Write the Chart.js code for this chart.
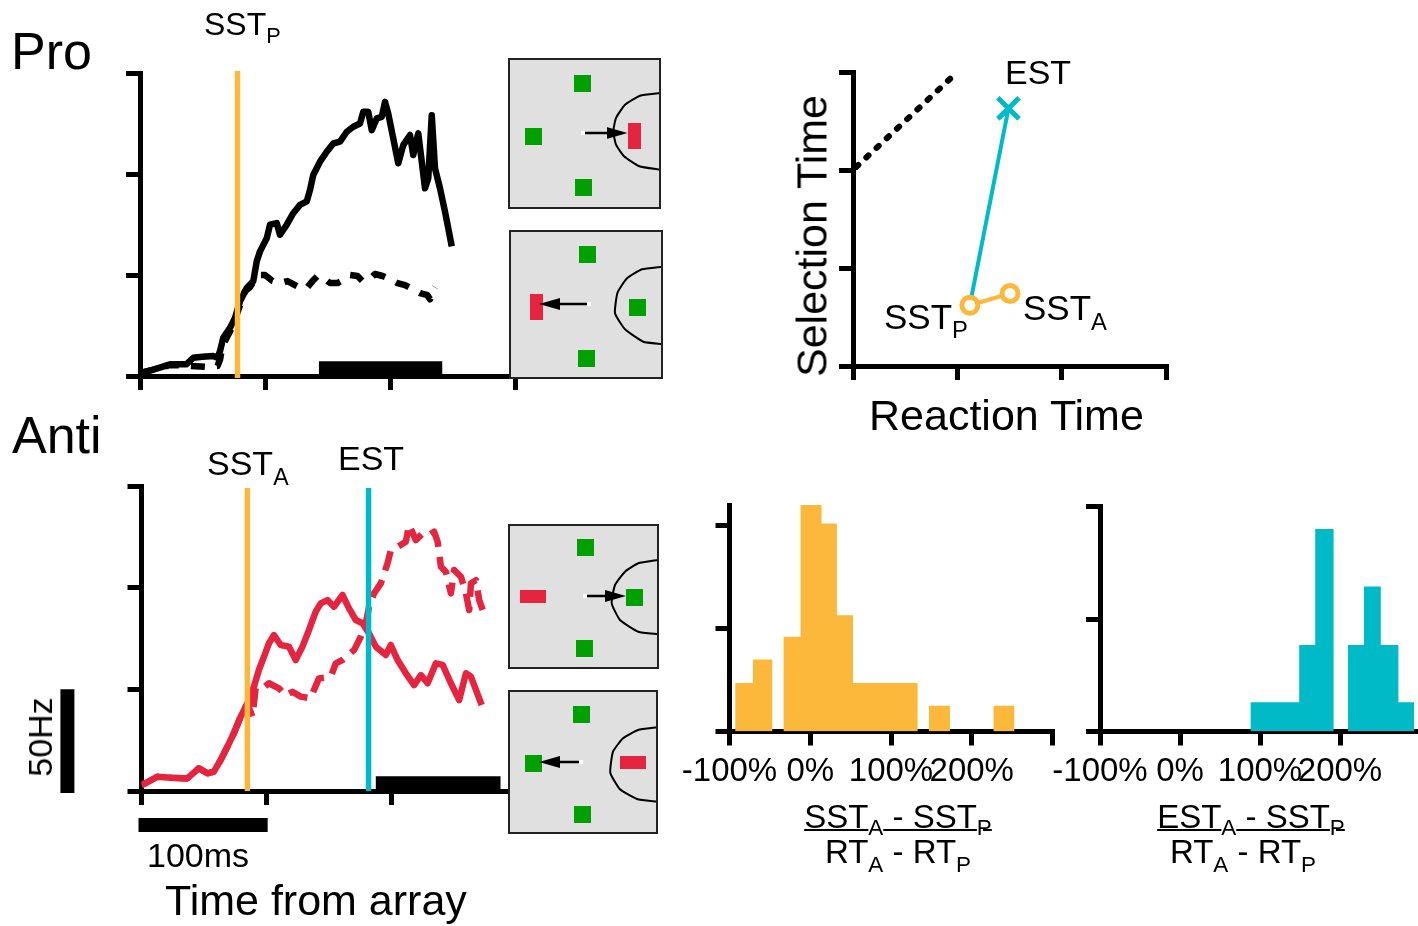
<!DOCTYPE html>
<html>
<head>
<meta charset="utf-8">
<script src="https://cdn.jsdelivr.net/npm/chart.js@4.4.1/dist/chart.umd.min.js"></script>
<style>
html, body { margin: 0; padding: 0; background: #fff; }
body { width: 1418px; height: 926px; position: relative; overflow: hidden;
       font-family: "Liberation Sans", Arial, sans-serif; color: #000; }
canvas { position: absolute; left: 0; top: 0; }
.t { position: absolute; line-height: 1; white-space: nowrap; }
.sb { font-size: 0.68em; position: relative; }
.rot { transform: translate(-50%, -50%) rotate(-90deg); }
.mid { transform: translateX(-50%); }
.num { text-decoration: underline; text-decoration-thickness: 2px; text-underline-offset: 1px; }
</style>
</head>
<body>
<canvas id="pro" width="1418" height="926"></canvas>
<canvas id="anti" width="1418" height="926"></canvas>
<canvas id="sel" width="1418" height="926"></canvas>
<canvas id="histSst" width="1418" height="926"></canvas>
<canvas id="histEst" width="1418" height="926"></canvas>
<canvas id="box1" width="1418" height="926"></canvas>
<canvas id="box2" width="1418" height="926"></canvas>
<canvas id="box3" width="1418" height="926"></canvas>
<canvas id="box4" width="1418" height="926"></canvas>

<div class="t" style="font-size:52px;left:11px;top:25px">Pro</div>
<div class="t" style="font-size:52px;left:12px;top:409px">Anti</div>
<div class="t" style="font-size:32px;left:204px;top:8px">SST<span class="sb" style="top:8px">P</span></div>
<div class="t" style="font-size:34px;left:207px;top:446px">SST<span class="sb" style="top:10px">A</span></div>
<div class="t" style="font-size:34px;left:338px;top:441px">EST</div>
<div class="t" style="font-size:34px;left:147px;top:838px">100ms</div>
<div class="t rot" style="font-size:34px;left:40px;top:737px">50Hz</div>
<div class="t" style="font-size:43px;left:165px;top:879px">Time from array</div>

<div class="t" style="font-size:34px;left:1005px;top:55px">EST</div>
<div class="t" style="font-size:35px;left:884px;top:299px">SST<span class="sb" style="top:9px">P</span></div>
<div class="t" style="font-size:35px;left:1023px;top:290px">SST<span class="sb" style="top:10px">A</span></div>
<div class="t" style="font-size:43px;left:869px;top:394px">Reaction Time</div>
<div class="t rot" style="font-size:43px;left:812px;top:236px">Selection Time</div>

<div class="t mid num" style="font-size:33px;left:898px;top:800px">SST<span class="sb" style="top:7px">A</span> - SST<span class="sb" style="top:7px">P</span></div>
<div class="t mid" style="font-size:33px;left:898px;top:835px">RT<span class="sb" style="top:9px">A</span> - RT<span class="sb" style="top:9px">P</span></div>
<div class="t mid num" style="font-size:33px;left:1251px;top:800px">EST<span class="sb" style="top:7px">A</span> - SST<span class="sb" style="top:7px">P</span></div>
<div class="t mid" style="font-size:33px;left:1243px;top:835px">RT<span class="sb" style="top:9px">A</span> - RT<span class="sb" style="top:9px">P</span></div>

<script>
// firing rate traces (time from array in ms, rate in Hz)
const proSolidT  = [0, 10, 24, 37, 42.6, 50, 58.6, 62, 64, 66.6, 72, 76, 80, 85.4, 90.6, 93.4, 96, 101.4, 104, 109.4, 112, 117.4, 122.6, 128, 133.4, 136, 138.6, 144, 149.4, 154.6, 160, 165.4, 170.6, 176, 178.6, 182.6, 185.4, 189.4, 193.4, 196, 198.6, 202.6, 206.6, 210.6, 216, 218.6, 222.6, 225.4, 228, 230.6, 233.4, 236, 240, 244, 246.6, 249.4];
const proSolidHz = [1.5, 3, 5.8, 5.8, 9, 9.5, 9.9, 9, 12.3, 18.9, 23.8, 28.8, 37, 43.6, 46.9, 56.8, 61.7, 68.2, 74.9, 75.7, 69.9, 74.9, 80.6, 84.7, 86.4, 92.1, 99.5, 106.1, 111, 115.1, 116, 120.9, 123.4, 125, 130.8, 130.8, 121.7, 127.5, 128.3, 135.7, 129.9, 117.6, 105.3, 114.3, 119.3, 109.4, 120.1, 106.1, 92.9, 97.9, 129.1, 102.8, 92.9, 81.4, 73.2, 64.2];
const proDashT   = [0, 10, 24, 40, 55, 62, 64, 66, 72, 76, 80, 84, 88, 92, 96, 100, 106, 112, 118, 124, 130, 134, 138, 142, 146, 152, 158, 164, 168, 174, 178, 184, 188, 194, 200, 206, 212, 218, 224, 230, 232, 234, 236];
const proDashHz  = [1.5, 3, 5.5, 5, 4.5, 5, 8, 15, 22, 28, 35, 42, 44, 48, 50, 50, 47, 46, 47, 45, 43, 44, 47, 49.5, 49, 46, 46, 48, 50, 49.5, 47, 48, 50.5, 49.5, 48, 46, 45, 43, 41, 40, 38, 42, 44];

const antiSolidT  = [0, 3.2, 12.6, 24, 36.6, 45.8, 52.6, 57.8, 63.2, 68.6, 73.8, 79.2, 84.6, 89.8, 93.8, 97.8, 101.8, 105.8, 111.2, 117.8, 123.2, 128.6, 133.8, 139.2, 143.2, 148.6, 153.8, 160.6, 165.8, 171.2, 176.6, 181.8, 187.2, 195.2, 199.2, 204.6, 211.2, 217.8, 223.2, 228.6, 235.2, 240.6, 247.2, 253.8, 259.2, 263.2, 267.2, 271.8];
const antiSolidHz = [3, 3.8, 7, 6.5, 6.2, 11.2, 8.7, 9.5, 15.2, 21.8, 28.4, 36.5, 43.1, 51.3, 59.5, 66, 72.6, 76.7, 71.8, 71, 64.4, 71, 79.2, 88.2, 92.3, 93.9, 90.6, 96.4, 89.8, 84.1, 82.5, 77.5, 71, 66.9, 71.8, 64.4, 57.9, 52.1, 57, 53, 62.8, 62, 53, 44.7, 57.9, 56.2, 49.7, 42.3];
const antiDashT   = [0, 3.2, 12.6, 24, 36.6, 45.8, 52.6, 57.8, 63.2, 68.6, 73.8, 79.2, 84.6, 88.6, 91.2, 95.2, 101.8, 109.8, 115, 120.6, 127.2, 135.2, 137.8, 141.8, 151.2, 155.2, 160.6, 169.8, 175.2, 179.2, 181.8, 185.8, 191.2, 196.6, 199.2, 204.6, 211.2, 213.8, 219.2, 224.6, 229.8, 233.8, 236.6, 239.2, 243.2, 247.2, 249.8, 255.2, 259.2, 261.8, 263.2, 267.2, 269.8, 272.6];
const antiDashHz  = [3, 3.8, 7, 6.5, 6.2, 11.2, 8.7, 9.5, 15.2, 21.8, 28.4, 36.5, 43.1, 36.5, 50.5, 49.7, 53, 50.5, 47, 48.8, 46.4, 45.6, 49.7, 55.4, 56.2, 62.8, 64.4, 69.3, 75.9, 82.5, 90.6, 97.2, 102.1, 112, 118.5, 120.1, 122.6, 130.8, 123.4, 126.7, 125.9, 127.5, 122.6, 110.3, 107.8, 97.2, 108.7, 105.4, 97.2, 89, 102.1, 103.7, 93.9, 89];

// event times (ms) and saccade epoch bars
const sstProMs = 78;
const sstAntiMs = 84.6;
const estAntiMs = 181.4;
const proEpochMs = [143, 242];
const antiEpochMs = [187, 287];
const epochHz = 7.3;
const rateTicks = [0, 50, 100, 150];
const timeTicks = [0, 100, 200, 300];
const barMs = [-2.4, 100.8];   // 100ms scale bar
const barHz = [-1, 50];        // 50Hz scale bar

// selection time vs reaction time (arbitrary units)
const sstRT = [1.12, 1.505];
const sstST = [0.62, 0.74];
const estRT = 1.49, estST = 2.63;
const unityRT = [0.03, 0.98];
const unityST = [2.03, 2.98];
const rtTicks = [0, 1, 2, 3];

// histograms: bin edges (%) and fractions
const sstEdges = [-93, -71, -47, -33, -12, 14, 33, 53, 133, 147, 173, 227, 253];
const sstFrac  = [0.047, 0.07, 0, 0.092, 0.22, 0.202, 0.113, 0.047, 0, 0.025, 0, 0.025];
const estEdges = [88, 149, 169, 192, 210, 230, 251, 273, 293];
const estFrac  = [0.026, 0.077, 0.18, 0, 0.077, 0.129, 0.077, 0.026];
const pctTicks = [-100, 0, 100, 200, 300];
const fracTicks = [0, 0.1, 0.2];

// task schematics (box pixel frame)
const boxGreen = [
  [[73, 24], [24, 77], [74, 128]],
  [[77.5, 23], [127.5, 76], [76.5, 127]],
  [[76, 22], [125, 72], [75, 123]],
  [[72, 23], [24, 72], [73, 123]]
];
const boxRed = [[125.5, 77], [26, 76], [24, 71], [124, 71]];
const boxRedVertical = [true, true, false, false];
const boxFix = [[74, 74], [79, 73], [76, 71], [72, 71]];
const boxTip = [[118.5, 74], [29, 73], [117, 71], [30, 71]];
const boxArc = [
  [[151, 34], [131, 36.7], [116, 45.7], [107, 59], [104.3, 72.3], [107, 85.7], [115, 97.3], [130.3, 107.3], [151, 110.7]],
  [[152, 35.7], [132, 38.3], [117, 47.3], [107.5, 61.7], [105, 82.3], [115, 98.3], [133.3, 110.7], [152, 113]],
  [[149, 35], [129.3, 38.3], [116, 46.7], [106, 60], [102.7, 78.3], [111, 95], [129.3, 106.7], [149, 109.3]],
  [[148, 36.3], [129, 39], [114, 47.3], [104, 60.7], [101.3, 81.7], [110.7, 98], [128, 108], [148, 110.7]]
];

const ORANGE = '#fbb83a', CYAN = '#00bac8', RED = '#e5243f', GREEN = '#00a000', GREY = '#e0e0e0';
const W = 1418, H = 926, TICK = 14;

Chart.defaults.font.family = '"Liberation Sans", Arial, sans-serif';
Chart.defaults.color = '#000';

function xy(xs, ys) { return xs.map((x, i) => ({ x: x, y: ys[i] })); }
function steps(edges, vals) { return edges.map((e, i) => ({ x: e, y: i < vals.length ? vals[i] : 0 })); }

function axis(min, max, ticks, isX, size, extra) {
  return Object.assign({
    type: 'linear', min: min, max: max,
    afterBuildTicks: s => { s.ticks = ticks.map(v => ({ value: v })); },
    afterFit: s => { if (isX) s.height = size; else s.width = size; },
    grid: { display: true, drawOnChartArea: false, drawTicks: true, tickLength: TICK, lineWidth: 5, color: '#000' },
    border: { display: true, width: 5, color: '#000' },
    ticks: { display: false }
  }, extra || {});
}

function options(area, xAx, yAx, xH) {
  return {
    responsive: false, animation: false, devicePixelRatio: 1, events: [],
    layout: { padding: { left: area.l - TICK, top: area.t, right: W - area.r, bottom: H - area.b - (xH || TICK) } },
    plugins: { legend: { display: false }, tooltip: { enabled: false } },
    scales: { x: xAx, y: yAx }
  };
}

function trace(data, color, extra) {
  return Object.assign({ data: data, borderColor: color, borderWidth: 6.5, pointRadius: 0, tension: 0,
    borderJoinStyle: 'round', fill: false }, extra || {});
}

// Pro panel
new Chart(document.getElementById('pro'), {
  type: 'line',
  data: { datasets: [
    trace([{ x: sstProMs, y: -1 }, { x: sstProMs, y: 151 }], ORANGE, { borderWidth: 5.5, clip: false }),
    trace(xy(proSolidT, proSolidHz), '#000'),
    trace(xy(proDashT, proDashHz), '#000', { borderDash: [14, 12] }),
    trace([{ x: proEpochMs[0], y: epochHz }, { x: proEpochMs[1], y: epochHz }], '#000',
      { borderWidth: 0, backgroundColor: '#000', fill: 'origin', stepped: true })
  ] },
  options: options({ l: 140, t: 73, r: 515, b: 376 }, axis(0, 300, timeTicks, true, TICK), axis(0, 150, rateTicks, false, TICK))
});

// Anti panel
new Chart(document.getElementById('anti'), {
  type: 'line',
  data: { datasets: [
    trace([{ x: estAntiMs, y: 0 }, { x: estAntiMs, y: 149 }], CYAN, { borderWidth: 5.5, clip: false }),
    trace([{ x: sstAntiMs, y: 0 }, { x: sstAntiMs, y: 149 }], ORANGE, { borderWidth: 5.5, clip: false }),
    trace(xy(antiSolidT, antiSolidHz), RED),
    trace(xy(antiDashT, antiDashHz), RED, { borderDash: [20, 10] }),
    trace([{ x: antiEpochMs[0], y: epochHz }, { x: antiEpochMs[1], y: epochHz }], '#000',
      { borderWidth: 0, backgroundColor: '#000', fill: 'origin', stepped: true }),
    trace([{ x: -59.2, y: barHz[0] }, { x: -59.2, y: barHz[1] }], '#000', { borderWidth: 14, borderCapStyle: 'butt', clip: false }),
    trace([{ x: barMs[0], y: -16.7 }, { x: barMs[1], y: -16.7 }], '#000', { borderWidth: 14, borderCapStyle: 'butt', clip: false })
  ] },
  options: options({ l: 141.5, t: 486, r: 517, b: 791 }, axis(0, 300, timeTicks, true, TICK), axis(0, 150, rateTicks, false, TICK))
});

// Selection time vs reaction time
new Chart(document.getElementById('sel'), {
  type: 'line',
  data: { datasets: [
    trace(xy(sstRT, sstST), ORANGE, { borderWidth: 4, pointRadius: 8, pointBorderWidth: 5,
      pointBorderColor: ORANGE, pointBackgroundColor: '#fff', clip: false }),
    trace([{ x: sstRT[0], y: sstST[0] }, { x: estRT, y: estST }], CYAN, { borderWidth: 4,
      pointRadius: [0, 15], pointStyle: 'crossRot', pointBorderWidth: 5, pointBorderColor: CYAN, clip: false }),
    trace(xy(unityRT, unityST), '#000', { borderWidth: 6, borderDash: [3, 11], borderCapStyle: 'round', clip: false })
  ] },
  options: options({ l: 853, t: 72, r: 1166, b: 366 }, axis(0, 3, rtTicks, true, TICK), axis(0, 3, rtTicks, false, TICK))
});

// histograms
const HIST_XH = 66;
function pctAxis(min, max) {
  return axis(min, max, pctTicks.filter(v => v <= max), true, HIST_XH, {
    ticks: { display: true, font: { size: 33 }, color: '#000', padding: 7, autoSkip: false,
      maxRotation: 0, minRotation: 0, callback: v => (v === 300 ? '' : v + '%') }
  });
}
new Chart(document.getElementById('histSst'), {
  type: 'line',
  data: { datasets: [
    trace(steps(sstEdges, sstFrac), ORANGE, { borderWidth: 0, backgroundColor: ORANGE, fill: 'origin', stepped: true })
  ] },
  options: options({ l: 729.5, t: 505, r: 1052.5, b: 731.5 }, pctAxis(-100, 300), axis(0, 0.22, fracTicks, false, TICK), HIST_XH)
});
new Chart(document.getElementById('histEst'), {
  type: 'line',
  data: { datasets: [
    trace(steps(estEdges, estFrac), CYAN, { borderWidth: 0, backgroundColor: CYAN, fill: 'origin', stepped: true })
  ] },
  options: options({ l: 1100, t: 506.5, r: 1418, b: 731.5 }, pctAxis(-100, 297.5), axis(0, 0.2, fracTicks, false, TICK), HIST_XH)
});

// schematic boxes
function block(w, h, color) {
  const c = document.createElement('canvas');
  c.width = w; c.height = h;
  const g = c.getContext('2d');
  g.fillStyle = color; g.fillRect(0, 0, w, h);
  return c;
}
function head(len, half) {
  const c = document.createElement('canvas');
  c.width = 2 * len; c.height = 2 * half;
  const g = c.getContext('2d');
  g.fillStyle = '#000';
  g.beginPath(); g.moveTo(len, half); g.lineTo(0, 0); g.lineTo(0, 2 * half); g.closePath(); g.fill();
  return c;
}
const greenImg = block(17, 17, GREEN);
const redV = block(13, 26, RED), redH = block(26, 13, RED);
const fixImg = block(4, 4, '#fff');
const headImg = head(21, 6);

const boxFrame = {
  id: 'boxFrame',
  beforeDatasetsDraw(chart) {
    const a = chart.chartArea, g = chart.ctx;
    g.save(); g.fillStyle = GREY; g.fillRect(a.left, a.top, a.right - a.left, a.bottom - a.top); g.restore();
  },
  afterDatasetsDraw(chart) {
    const a = chart.chartArea, g = chart.ctx;
    g.save(); g.strokeStyle = '#222'; g.lineWidth = 2;
    g.strokeRect(a.left, a.top, a.right - a.left, a.bottom - a.top); g.restore();
  }
};

const boxRects = [
  { l: 509, t: 59, r: 660, b: 208 },
  { l: 510, t: 231, r: 662, b: 378 },
  { l: 509, t: 525, r: 658, b: 668 },
  { l: 509, t: 691, r: 657, b: 833 }
];

boxRects.forEach((rc, k) => {
  const pts = arr => arr.map(p => ({ x: p[0], y: p[1] }));
  const dir = boxTip[k][0] > boxFix[k][0] ? 1 : -1;
  const shaftEnd = { x: boxTip[k][0] - dir * 20, y: boxTip[k][1] };
  new Chart(document.getElementById('box' + (k + 1)), {
    type: 'scatter',
    data: { datasets: [
      { data: pts([boxTip[k]]), pointStyle: headImg, pointRotation: dir > 0 ? 0 : 180 },
      { data: pts([boxRed[k]]), pointStyle: boxRedVertical[k] ? redV : redH },
      { data: pts(boxGreen[k]), pointStyle: greenImg },
      { data: pts([boxFix[k]]), pointStyle: fixImg },
      { data: [{ x: boxFix[k][0] + dir * 2, y: boxFix[k][1] }, shaftEnd], showLine: true,
        borderColor: '#000', borderWidth: 2.5, pointRadius: 0 },
      { data: pts(boxArc[k]), showLine: true, borderColor: '#000', borderWidth: 2, pointRadius: 0,
        tension: 0.15, clip: false }
    ] },
    options: {
      responsive: false, animation: false, devicePixelRatio: 1, events: [],
      layout: { padding: { left: rc.l, top: rc.t, right: W - rc.r, bottom: H - rc.b } },
      plugins: { legend: { display: false }, tooltip: { enabled: false } },
      scales: {
        x: { type: 'linear', display: false, min: 0, max: rc.r - rc.l },
        y: { type: 'linear', display: false, min: 0, max: rc.b - rc.t, reverse: true }
      }
    },
    plugins: [boxFrame]
  });
});
</script>
</body>
</html>
